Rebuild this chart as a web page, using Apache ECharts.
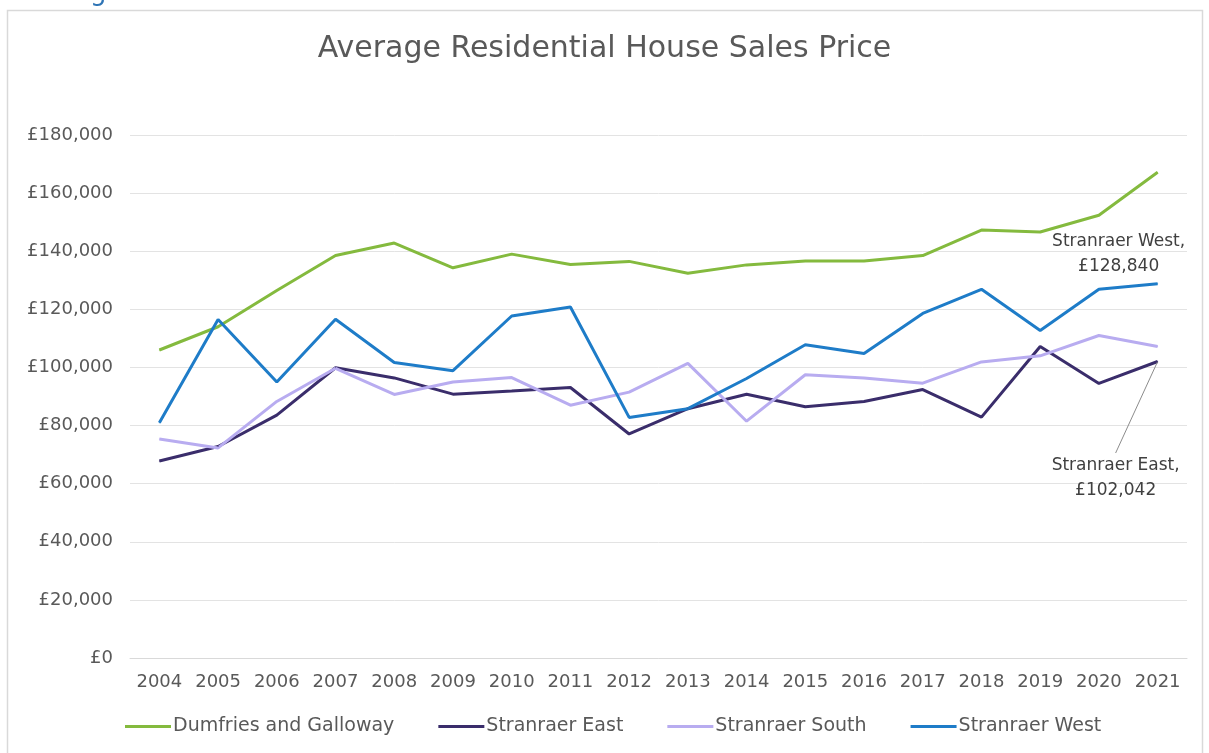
<!DOCTYPE html>
<html>
<head>
<meta charset="utf-8">
<script src="https://cdn.jsdelivr.net/npm/echarts@6/dist/echarts.min.js"></script>
<style>
html,body{margin:0;padding:0;background:#fff;}
#chart{width:1209px;height:753px;}
</style>
</head>
<body>
<div id="chart"></div>
<script>
var years = ['2004','2005','2006','2007','2008','2009','2010','2011','2012','2013','2014','2015','2016','2017','2018','2019','2020','2021'];
var dumfries = [106000,114000,126500,138500,142800,134300,139000,135400,136500,132400,135300,136600,136600,138500,147300,146600,152400,167200];
var east = [67800,72800,83600,99900,96400,90800,91900,93100,77100,85800,90800,86500,88300,92400,82900,107200,94500,102042];
var south = [75400,72300,88300,99700,90700,95000,96500,87000,91500,101400,81500,97500,96400,94600,101900,104000,111000,107200];
var west = [81000,116500,95000,116600,101700,98900,117700,120800,82800,85800,96200,107800,104800,118600,126900,112700,126900,128840];
var seriesNames = ['Dumfries and Galloway','Stranraer East','Stranraer South','Stranraer West'];
var yTicks = {min: 0, max: 180000, interval: 20000};

var FONT = 'DejaVu Sans';
function money(v){ return '£' + v.toString().replace(/\B(?=(\d{3})+(?!\d))/g, ','); }

function lastLabel(arr, name, cfg){
  return arr.map(function(v, i){
    if (i !== arr.length - 1) return v;
    return {value: v, label: Object.assign({
      show: true,
      formatter: name + ',\n' + money(v),
      color: '#404040',
      fontFamily: FONT,
      fontSize: 17,
      lineHeight: 25,
      align: 'center'
    }, cfg)};
  });
}

function lineSeries(name, data, color, extra){
  return Object.assign({
    name: name, type: 'line', data: data,
    symbol: 'circle', symbolSize: 1, showSymbol: true,
    lineStyle: {width: 3, color: color}, itemStyle: {color: color},
    emphasis: {disabled: true}
  }, extra || {});
}

var chart = echarts.init(document.getElementById('chart'), null, {renderer: 'canvas'});
chart.setOption({
  backgroundColor: '#ffffff',
  animation: false,
  graphic: [
    {type: 'rect', shape: {x: 7.5, y: 10.5, width: 1195, height: 780}, style: {fill: null, stroke: '#D9D9D9', lineWidth: 1.5}, silent: true},
    {type: 'text', left: 90, top: -20, style: {text: 'g', fill: '#2E74B5', font: '26px ' + FONT}, silent: true}
  ],
  title: {
    text: 'Average Residential House Sales Price',
    left: 'center',
    top: 29,
    textStyle: {fontFamily: FONT, fontSize: 30, fontWeight: 'normal', color: '#595959'}
  },
  legend: {
    data: seriesNames,
    bottom: 12,
    left: 120,
    icon: 'rect',
    itemWidth: 46,
    itemHeight: 3,
    itemGap: 44,
    textStyle: {fontFamily: FONT, fontSize: 19, color: '#595959', padding: [0,0,0,-3]}
  },
  grid: {left: 130, right: 22, top: 135, bottom: 95},
  xAxis: {
    type: 'category',
    data: years,
    boundaryGap: true,
    axisLine: {lineStyle: {color: '#D9D9D9', width: 1}},
    axisTick: {show: false},
    axisLabel: {fontFamily: FONT, fontSize: 18, color: '#595959', margin: 15, interval: 0}
  },
  yAxis: {
    type: 'value',
    min: yTicks.min,
    max: yTicks.max,
    interval: yTicks.interval,
    axisLine: {show: false},
    axisTick: {show: false},
    splitLine: {lineStyle: {color: '#E3E3E3', width: 1}},
    axisLabel: {fontFamily: FONT, fontSize: 18, color: '#595959', margin: 17, formatter: money}
  },
  series: [
    lineSeries(seriesNames[0], dumfries, '#84BA3E'),
    lineSeries(seriesNames[1], lastLabel(east, 'Stranraer East', {position: 'top', distance: 5}), '#3A2D6B', {
      labelLayout: {dx: -42, dy: 147},
      labelLine: {show: true, length2: 0, lineStyle: {color: '#8C8C8C', width: 1}}
    }),
    lineSeries(seriesNames[2], south, '#B8ACF0'),
    lineSeries(seriesNames[3], lastLabel(west, 'Stranraer West', {position: 'top', distance: 4, offset: [-39, 0]}), '#1E7CC8')
  ]
});
</script>
</body>
</html>
